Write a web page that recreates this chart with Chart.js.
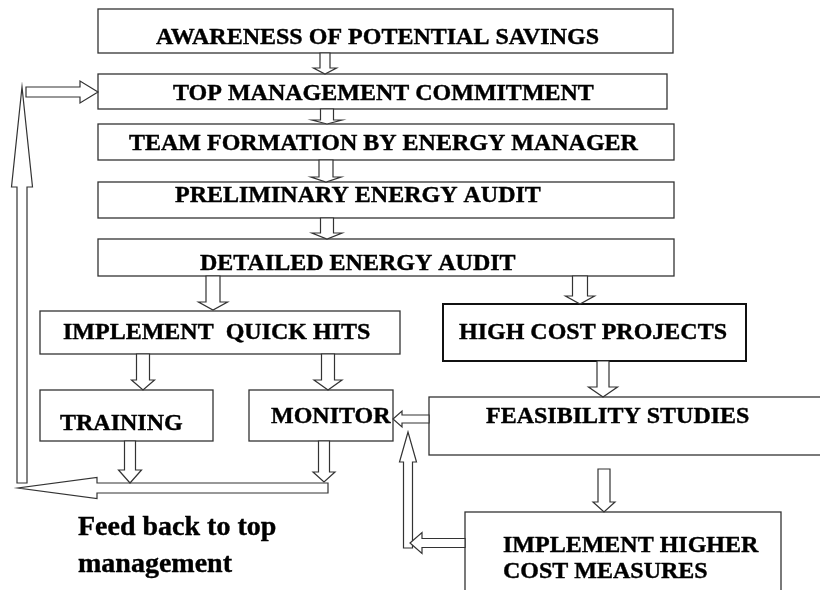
<!DOCTYPE html>
<html>
<head>
<meta charset="utf-8">
<script src="https://cdn.jsdelivr.net/npm/chart.js@4"></script>
<style>
  body { margin: 0; background: #fff; }
  #flow { display: block; }
</style>
</head>
<body>
<canvas id="flow" width="820" height="590"></canvas>
<script>
// flowchart steps (data space = 820 x 590, y grows downward)
const nodeLabels = [
    ['AWARENESS OF POTENTIAL SAVINGS'],
    ['TOP MANAGEMENT COMMITMENT'],
    ['TEAM FORMATION BY ENERGY MANAGER'],
    ['PRELIMINARY ENERGY AUDIT'],
    ['DETAILED ENERGY AUDIT'],
    ['IMPLEMENT  QUICK HITS'],
    ['HIGH COST PROJECTS'],
    ['TRAINING'],
    ['MONITOR'],
    ['FEASIBILITY STUDIES'],
    ['IMPLEMENT HIGHER', 'COST MEASURES']
];
const nodeLeft   = [98, 98, 98, 98, 98, 40, 443, 40, 249, 429, 465];
const nodeRight  = [673, 667, 674, 674, 674, 400, 746, 213, 393, 830, 781];
const nodeTop    = [9, 74, 124, 182, 239, 311, 304, 390, 390, 397, 512];
const nodeBottom = [53, 109, 160, 218, 276, 354, 361, 441, 441, 455, 600];
const labelX     = [156, 173, 129, 175, 200, 63, 459, 60, 271, 486, 503];
const labelY     = [44, 100, 150, 202, 270, 339, 339, 430, 423, 423, 552];

// block arrows: tail -> tip
const arrowTailX = [325, 327, 326, 327, 213, 580, 143, 328, 603, 429, 604, 408, 465, 22, 328, 130, 324, 26];
const arrowTailY = [53, 109, 160, 218, 276, 276, 354, 354, 361, 419, 469, 548, 543, 483, 488, 441, 441, 92];
const arrowTipX  = [325, 327, 326, 327, 213, 580, 143, 328, 603, 393, 604, 408, 410, 22, 18, 130, 324, 98];
const arrowTipY  = [74, 124, 182, 239, 310, 304, 390, 390, 397, 419, 512, 432, 543, 87, 488, 483, 482, 92];
const arrowShaft = [10, 13, 14, 13, 14, 15, 13, 13, 12, 8, 12, 9, 9, 10, 10, 11, 11, 10];
const arrowHead  = [23, 30, 30, 30, 29, 29, 23, 28, 29, 16, 22, 17, 21, 21, 21, 23, 22, 22];
const arrowHeadLen = [6, 4, 5, 6, 8, 8, 10, 10, 10, 9, 10, 30, 12, 100, 79, 13, 10, 18];

const noteLines = ['Feed back to top', 'management'];
const noteX = 78;
const noteY = [535, 572];

const flowPlugin = {
    id: 'flow',
    afterDatasetsDraw(chart) {
        const ctx = chart.ctx;
        const xs = chart.scales.x;
        const ys = chart.scales.y;
        const px = v => xs.getPixelForValue(v);
        const py = v => ys.getPixelForValue(v);

        ctx.save();

        // boxes
        for (let i = 0; i < nodeLabels.length; i++) {
            ctx.lineWidth = i === 6 ? 2 : 1.3;
            ctx.strokeStyle = i === 6 ? '#111' : '#333';
            ctx.strokeRect(px(nodeLeft[i]), py(nodeTop[i]),
                px(nodeRight[i]) - px(nodeLeft[i]), py(nodeBottom[i]) - py(nodeTop[i]));
        }

        // arrows
        ctx.lineWidth = 1.2;
        ctx.strokeStyle = '#333';
        ctx.fillStyle = '#fff';
        for (let i = 0; i < arrowTailX.length; i++) {
            const tx = arrowTailX[i], ty = arrowTailY[i];
            const hx = arrowTipX[i], hy = arrowTipY[i];
            const len = Math.hypot(hx - tx, hy - ty);
            const ux = (hx - tx) / len, uy = (hy - ty) / len;
            const nx = -uy, ny = ux;
            const bx = hx - ux * arrowHeadLen[i], by = hy - uy * arrowHeadLen[i];
            const w = arrowShaft[i] / 2, h = arrowHead[i] / 2;
            const pts = [
                [tx + nx * w, ty + ny * w],
                [bx + nx * w, by + ny * w],
                [bx + nx * h, by + ny * h],
                [hx, hy],
                [bx - nx * h, by - ny * h],
                [bx - nx * w, by - ny * w],
                [tx - nx * w, ty - ny * w]
            ];
            ctx.beginPath();
            pts.forEach((p, k) => k ? ctx.lineTo(px(p[0]), py(p[1])) : ctx.moveTo(px(p[0]), py(p[1])));
            ctx.closePath();
            ctx.fill();
            ctx.stroke();
        }

        // labels
        ctx.fillStyle = '#000';
        ctx.strokeStyle = '#000';
        ctx.lineWidth = 0.4;
        ctx.textBaseline = 'alphabetic';
        ctx.textAlign = 'left';
        ctx.font = 'bold 24px "Liberation Serif", "Times New Roman", serif';
        for (let i = 0; i < nodeLabels.length; i++) {
            nodeLabels[i].forEach((line, k) => {
                ctx.fillText(line, px(labelX[i]), py(labelY[i] + k * 26));
                ctx.strokeText(line, px(labelX[i]), py(labelY[i] + k * 26));
            });
        }
        ctx.font = 'bold 28px "Liberation Serif", "Times New Roman", serif';
        noteLines.forEach((line, k) => {
            ctx.fillText(line, px(noteX), py(noteY[k]));
            ctx.strokeText(line, px(noteX), py(noteY[k]));
        });
        ctx.restore();
    }
};

new Chart(document.getElementById('flow'), {
    type: 'scatter',
    data: {
        datasets: [{
            label: 'Steps',
            data: nodeLabels.map((l, i) => ({ x: (nodeLeft[i] + nodeRight[i]) / 2, y: (nodeTop[i] + nodeBottom[i]) / 2 })),
            pointRadius: 0
        }]
    },
    options: {
        responsive: false,
        animation: false,
        layout: { padding: 0 },
        plugins: { legend: { display: false }, tooltip: { enabled: false } },
        scales: {
            x: { type: 'linear', min: 0, max: 820, display: false },
            y: { type: 'linear', min: 0, max: 590, reverse: true, display: false }
        }
    },
    plugins: [flowPlugin]
});
</script>
</body>
</html>
